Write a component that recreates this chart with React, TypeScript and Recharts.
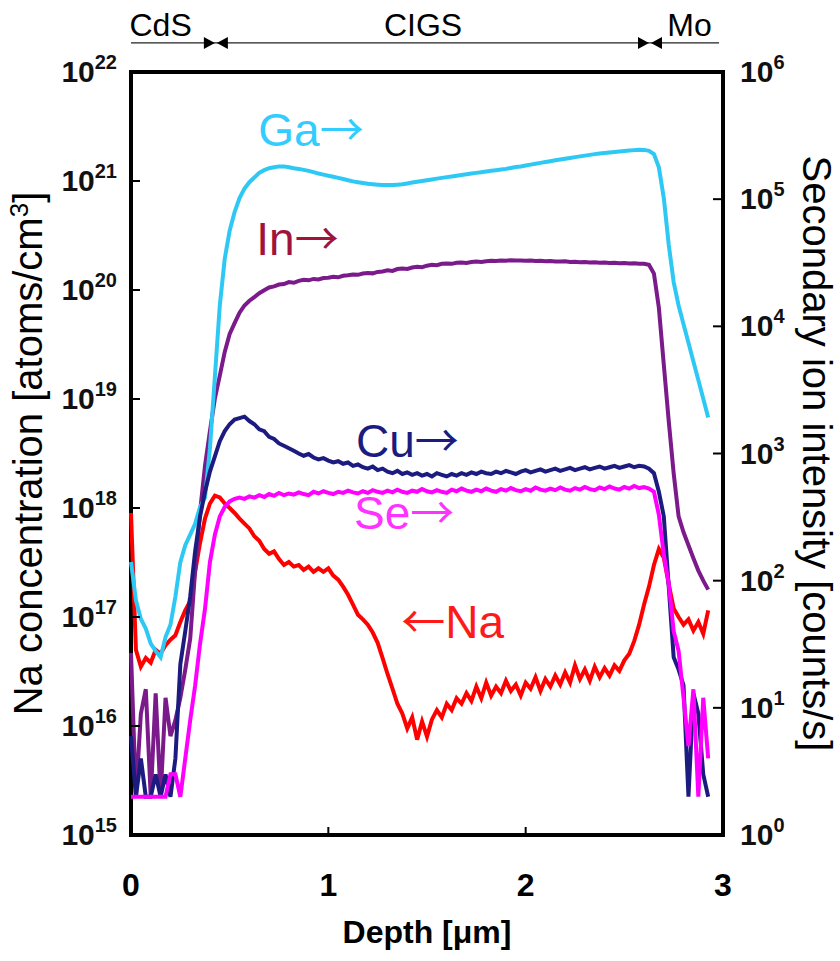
import React from 'react'
import { LineChart, Line, XAxis, YAxis, ReferenceArea, ReferenceLine, ReferenceDot } from 'recharts'

// depth grid [um]
const depth = [
  0, 0.025, 0.05, 0.075, 0.1, 0.125, 0.15, 0.175, 0.2, 0.225,
  0.25, 0.275, 0.3, 0.325, 0.35, 0.375, 0.4, 0.425, 0.45, 0.475,
  0.5, 0.525, 0.55, 0.575, 0.6, 0.625, 0.65, 0.675, 0.7, 0.725,
  0.75, 0.775, 0.8, 0.825, 0.85, 0.875, 0.9, 0.925, 0.95, 0.975,
  1.0, 1.025, 1.05, 1.075, 1.1, 1.125, 1.15, 1.175, 1.2, 1.225,
  1.25, 1.275, 1.3, 1.325, 1.35, 1.375, 1.4, 1.425, 1.45, 1.475,
  1.5, 1.525, 1.55, 1.575, 1.6, 1.625, 1.65, 1.675, 1.7, 1.725,
  1.75, 1.775, 1.8, 1.825, 1.85, 1.875, 1.9, 1.925, 1.95, 1.975,
  2.0, 2.025, 2.05, 2.075, 2.1, 2.125, 2.15, 2.175, 2.2, 2.225,
  2.25, 2.275, 2.3, 2.325, 2.35, 2.375, 2.4, 2.425, 2.45, 2.475,
  2.5, 2.525, 2.55, 2.575, 2.6, 2.625, 2.65, 2.675, 2.7, 2.725,
  2.75, 2.775, 2.8, 2.825, 2.85, 2.875, 2.9, 2.925,
]

// Na concentration [atoms/cm3] (left axis)
const naConc = [
  9e17, 5e16, 3.5e16, 4.2e16, 3.8e16, 5.0e16, 4.6e16, 5.5e16, 6.2e16, 6.8e16,
  9e16, 1.15e17, 1.4e17, 2.6e17, 4.8e17, 8e17, 1.1e18, 1.3e18, 1.25e18, 1.1e18,
  1.0e18, 9e17, 8e17, 7.2e17, 6.5e17, 5.5e17, 5.0e17, 4.2e17, 3.8e17, 4.0e17,
  3.4e17, 3.0e17, 3.2e17, 2.9e17, 3.0e17, 2.7e17, 2.9e17, 2.6e17, 2.8e17, 2.6e17,
  2.8e17, 2.4e17, 2.2e17, 1.9e17, 1.6e17, 1.3e17, 1.05e17, 9.5e16, 8.5e16, 7.2e16,
  5.8e16, 4.2e16, 3.0e16, 2.2e16, 1.6e16, 1.3e16, 9.5e15, 1.2e16, 7.5e15, 1.1e16,
  8.0e15, 1.15e16, 1.4e16, 1.2e16, 1.6e16, 1.4e16, 1.8e16, 1.6e16, 2.0e16, 1.7e16,
  2.3e16, 1.8e16, 2.5e16, 1.9e16, 2.3e16, 2.0e16, 2.6e16, 2.1e16, 2.4e16, 1.9e16,
  2.5e16, 2.2e16, 2.8e16, 2.1e16, 2.7e16, 2.3e16, 2.9e16, 2.4e16, 3.1e16, 2.5e16,
  3.6e16, 2.7e16, 3.3e16, 2.6e16, 3.5e16, 2.8e16, 3.4e16, 2.9e16, 3.6e16, 3.2e16,
  4.0e16, 4.6e16, 6.0e16, 8.5e16, 1.3e17, 1.9e17, 3.0e17, 4.2e17, 3.5e17, 2.0e17,
  1.2e17, 1.0e17, 8.5e16, 9.5e16, 7.5e16, 9.0e16, 7.0e16, 1.15e17,
]

// secondary ion intensities [counts/s] (right axis)
const gaCounts = [
  140, 70, 50, 42, 32, 28, 25, 36, 45, 75,
  140, 190, 230, 280, 380, 450, 1100, 4000, 14600, 34000,
  56500, 79300, 102000, 121000, 136000, 148000, 161000, 169000, 175000, 178000,
  181000, 181000, 178000, 175000, 173000, 170000, 167000, 163000, 159000, 156000,
  153000, 150000, 147000, 144000, 141000, 138000, 136000, 134000, 132000, 131000,
  130000, 129000, 129000, 129000, 130000, 131000, 133000, 135000, 137000, 139000,
  141000, 143000, 145000, 147000, 149000, 151000, 153000, 155000, 157000, 159000,
  161000, 163000, 165000, 167000, 169000, 171000, 173000, 176000, 179000, 181000,
  184000, 187000, 190000, 193000, 196000, 199000, 202000, 205000, 208000, 211000,
  214000, 217000, 220000, 223000, 226000, 229000, 231000, 233000, 235000, 237000,
  239000, 241000, 243000, 245000, 244000, 240000, 226000, 178000, 102000, 43800,
  22300, 14600, 10400, 7430, 5300, 3780, 2690, 1920,
]

const inCounts = [
  27, 2, 9, 14, 2, 13, 2, 12, 6, 8,
  12, 20, 35, 120, 350, 800, 1500, 2700, 4100, 6300,
  8700, 10600, 12800, 14600, 15900, 17000, 18200, 19200, 20200, 20600,
  21300, 21500, 22300, 22000, 22800, 23200, 23000, 23600, 23400, 24000,
  24100, 24500, 24300, 25000, 25200, 25600, 25400, 26000, 26300, 26100,
  26800, 27000, 27600, 27300, 28200, 28500, 28300, 29000, 29400, 29200,
  30000, 30500, 30200, 31000, 31200, 31000, 31600, 31800, 31500, 32000,
  32300, 32100, 32500, 32800, 32600, 33000, 32800, 33100, 32900, 33000,
  32800, 33000, 32600, 32800, 32500, 32700, 32400, 32300, 32500, 32100,
  32200, 31900, 32100, 31800, 31900, 31600, 31800, 31500, 31600, 31300,
  31500, 31200, 31300, 31000, 31100, 30500, 26000, 14000, 5000, 1800,
  700, 320, 240, 190, 150, 120, 100, 85,
]

const cuCounts = [
  6, 2, 4, 2, 2, 3, 2, 3, 2, 4,
  22, 40, 75, 170, 320, 500, 720, 950, 1250, 1500,
  1700, 1850, 1900, 1950, 1800, 1700, 1550, 1500, 1350, 1300,
  1200, 1150, 1100, 1050, 1000, 960, 990, 930, 900, 920,
  880, 850, 870, 830, 850, 800, 820, 780, 760, 790,
  740, 760, 720, 700, 730, 690, 710, 680, 700, 670,
  690, 660, 700, 680, 660, 690, 670, 700, 680, 710,
  690, 720, 700, 690, 720, 700, 730, 710, 690, 720,
  740, 710, 730, 750, 720, 740, 760, 730, 750, 770,
  740, 760, 780, 750, 770, 790, 760, 780, 800, 770,
  790, 810, 780, 800, 790, 760, 700, 500, 320, 90,
  25, 20, 15, 2, 13, 9, 3, 2,
]

const seCounts = [
  2, 2, 2, 2, 2, 2, 2, 2, 3, 3,
  2, 4, 8, 15, 32, 60, 140, 230, 320, 380,
  420, 440, 450, 440, 460, 450, 470, 455, 480, 465,
  490, 470, 485, 475, 495, 480, 470, 500, 485, 505,
  490, 480, 500, 490, 510, 495, 485, 505, 490, 515,
  500, 490, 510, 495, 520, 500, 490, 510, 500, 525,
  505, 495, 515, 500, 490, 520, 505, 530, 510, 500,
  520, 505, 530, 510, 500, 525, 510, 535, 515, 505,
  525, 510, 540, 520, 510, 530, 515, 540, 520, 510,
  535, 520, 545, 525, 515, 540, 525, 550, 530, 520,
  545, 530, 555, 535, 545, 530, 500, 330, 160, 95,
  40, 28, 12, 5, 14, 2, 12, 4,
]

const depthTicks = [0, 1, 2, 3]
const concTicks = [1e15, 1e16, 1e17, 1e18, 1e19, 1e20, 1e21, 1e22]
const countTicks = [1, 10, 100, 1e3, 1e4, 1e5, 1e6]

// layer band above the frame
const regionNames = ['CdS', 'CIGS', 'Mo']
const regionCenters = [0.15, 1.48, 2.83]
const regionBounds = [0.43, 2.63]
const bandLevel = 1.85e22

// in-plot element tags
const tagText = ['Ga\u2192', 'In\u2192', 'Cu\u2192', 'Se\u2192', '\u2190Na']
const tagDepth = [0.645, 0.635, 1.14, 1.13, 1.37]
const tagValue = [3.5e5, 4.9e4, 1250, 340, 9e16]
const tagAxis = ['right', 'right', 'right', 'right', 'left']
const tagColor = ['#33ccff', '#a0143c', '#1c1c80', '#ff33ff', '#ff1a1a']

const SANS = "'Liberation Sans', Arial, sans-serif"
const NARROW = "'Liberation Sans Narrow', 'Liberation Sans', Arial, sans-serif"
const ARROW = "'Noto Sans CJK JP', 'DejaVu Sans', sans-serif"

const rows = depth.map((d, i) => ({
  depth: d,
  na: naConc[i],
  ga: gaCounts[i],
  ind: inCounts[i],
  cu: cuCounts[i],
  se: seCounts[i],
}))

const exp10 = (v: number) => Math.round(Math.log10(v))

const LeftTick = (p: any) => (
  <g>
    <line x1={p.x} x2={p.x + 9} y1={p.y} y2={p.y} stroke="#000" strokeWidth={2} />
    <text x={p.x - 14} y={p.y + 10} textAnchor="end" fontFamily={NARROW} fontWeight="bold" fontSize={30} fill="#111">
      10<tspan dy={-13} fontSize={20}>{exp10(p.payload.value)}</tspan>
    </text>
  </g>
)

const RightTick = (p: any) => (
  <g>
    <line x1={p.x - 10} x2={p.x} y1={p.y} y2={p.y} stroke="#000" strokeWidth={2} />
    <text x={p.x + 17} y={p.y + 10} textAnchor="start" fontFamily={NARROW} fontWeight="bold" fontSize={30} fill="#111">
      10<tspan dy={-13} fontSize={20}>{exp10(p.payload.value)}</tspan>
    </text>
  </g>
)

const BottomTick = (p: any) => {
  const v = p.payload.value
  return (
    <g>
      {v > 0 && v < 3 ? <line x1={p.x} x2={p.x} y1={p.y} y2={p.y - 8} stroke="#000" strokeWidth={2} /> : null}
      <text x={p.x} y={p.y + 61} textAnchor="middle" fontFamily={SANS} fontWeight="bold" fontSize={32} fill="#000">
        {v}
      </text>
    </g>
  )
}

const DepthTitle = (p: any) => {
  const vb = p.viewBox
  return (
    <text x={vb.x + vb.width / 2} y={vb.y + 108} textAnchor="middle" fontFamily={SANS} fontWeight="bold" fontSize={32} fill="#000">
      Depth [μm]
    </text>
  )
}

const LeftTitle = (p: any) => {
  const vb = p.viewBox
  const cx = vb.x + 42
  const cy = vb.y + vb.height / 2
  return (
    <text x={cx} y={cy} transform={`rotate(-90, ${cx}, ${cy})`} textAnchor="middle" fontFamily={SANS} fontSize={40} fill="#000">
      Na concentration [atoms/cm<tspan dy={-14} fontSize={26}>3</tspan><tspan dy={14}>]</tspan>
    </text>
  )
}

const RightTitle = (p: any) => {
  const vb = p.viewBox
  const cx = vb.x + 80
  const cy = vb.y + vb.height / 2
  return (
    <text x={cx} y={cy} transform={`rotate(90, ${cx}, ${cy})`} textAnchor="middle" fontFamily={SANS} fontSize={40} fill="#000">
      Secondary ion intensity [counts/s]
    </text>
  )
}

const Bowtie = (p: any) => (
  <g fill="#000">
    <polygon points={`${p.cx - 12},${p.cy - 6} ${p.cx - 1},${p.cy} ${p.cx - 12},${p.cy + 6}`} />
    <polygon points={`${p.cx + 12},${p.cy - 6} ${p.cx + 1},${p.cy} ${p.cx + 12},${p.cy + 6}`} />
  </g>
)

const regionShape = (name: string) => (p: any) => (
  <text x={p.cx} y={p.cy - 7} textAnchor="middle" fontFamily={NARROW} fontSize={32} fill="#000">
    {name}
  </text>
)

// arrows drawn with a full-width CJK glyph, like the original figure
const tagShape = (text: string, color: string) => (p: any) => (
  <text x={p.cx} y={p.cy + 16} fontFamily={SANS} fontSize={46} fill={color}>
    {text.split('').map((ch, k) =>
      ch === '\u2192' || ch === '\u2190' ? (
        <tspan key={k} fontFamily={ARROW} fontSize={44}>{ch}</tspan>
      ) : (
        <tspan key={k}>{ch}</tspan>
      )
    )}
  </text>
)

const lineProps = { type: 'linear' as const, dot: false, strokeWidth: 4, isAnimationActive: false }

export default function App() {
  return (
    <div style={{ position: 'absolute', left: 0, top: 0, width: 840, height: 961, background: '#fff' }}>
      <LineChart width={840} height={961} data={rows} margin={{ top: 72, right: 0, bottom: 0, left: 0 }}>
        <XAxis
          dataKey="depth"
          type="number"
          domain={[0, 3]}
          ticks={depthTicks}
          interval={0}
          axisLine={false}
          tickLine={false}
          tickSize={0}
          tickMargin={0}
          height={126}
          tick={<BottomTick />}
          label={(p: any) => <DepthTitle {...p} />}
        />
        <YAxis
          yAxisId="left"
          orientation="left"
          scale="log"
          type="number"
          domain={[1e15, 1e22]}
          allowDataOverflow
          ticks={concTicks}
          interval={0}
          width={131}
          axisLine={false}
          tickLine={false}
          tickSize={0}
          tickMargin={0}
          tick={<LeftTick />}
          label={(p: any) => <LeftTitle {...p} />}
        />
        <YAxis
          yAxisId="right"
          orientation="right"
          scale="log"
          type="number"
          domain={[1, 1e6]}
          allowDataOverflow
          ticks={countTicks}
          interval={0}
          width={117}
          axisLine={false}
          tickLine={false}
          tickSize={0}
          tickMargin={0}
          tick={<RightTick />}
          label={(p: any) => <RightTitle {...p} />}
        />

        <Line yAxisId="left" dataKey="na" stroke="#ff0000" {...lineProps} />
        <Line yAxisId="right" dataKey="ind" stroke="#7b1a8a" {...lineProps} />
        <Line yAxisId="right" dataKey="ga" stroke="#2ec8f4" {...lineProps} />
        <Line yAxisId="right" dataKey="cu" stroke="#1c1c80" {...lineProps} />
        <Line yAxisId="right" dataKey="se" stroke="#ff00ff" {...lineProps} />

        <ReferenceArea
          yAxisId="left"
          x1={0}
          x2={3}
          y1={1e15}
          y2={1e22}
          fill="none"
          fillOpacity={0}
          stroke="#000"
          strokeWidth={4}
          ifOverflow="visible"
        />

        <ReferenceLine
          yAxisId="left"
          segment={[{ x: 0, y: bandLevel }, { x: 2.98, y: bandLevel }]}
          stroke="#222"
          strokeWidth={1.2}
          ifOverflow="visible"
        />
        {regionBounds.map((b, i) => (
          <ReferenceDot key={'b' + i} yAxisId="left" x={b} y={bandLevel} r={0} ifOverflow="visible" shape={Bowtie} />
        ))}
        {regionNames.map((n, i) => (
          <ReferenceDot key={'r' + i} yAxisId="left" x={regionCenters[i]} y={bandLevel} r={0} ifOverflow="visible" shape={regionShape(n)} />
        ))}
        {tagText.map((t, i) => (
          <ReferenceDot
            key={'t' + i}
            yAxisId={tagAxis[i]}
            x={tagDepth[i]}
            y={tagValue[i]}
            r={0}
            ifOverflow="visible"
            shape={tagShape(t, tagColor[i])}
          />
        ))}
      </LineChart>
    </div>
  )
}
